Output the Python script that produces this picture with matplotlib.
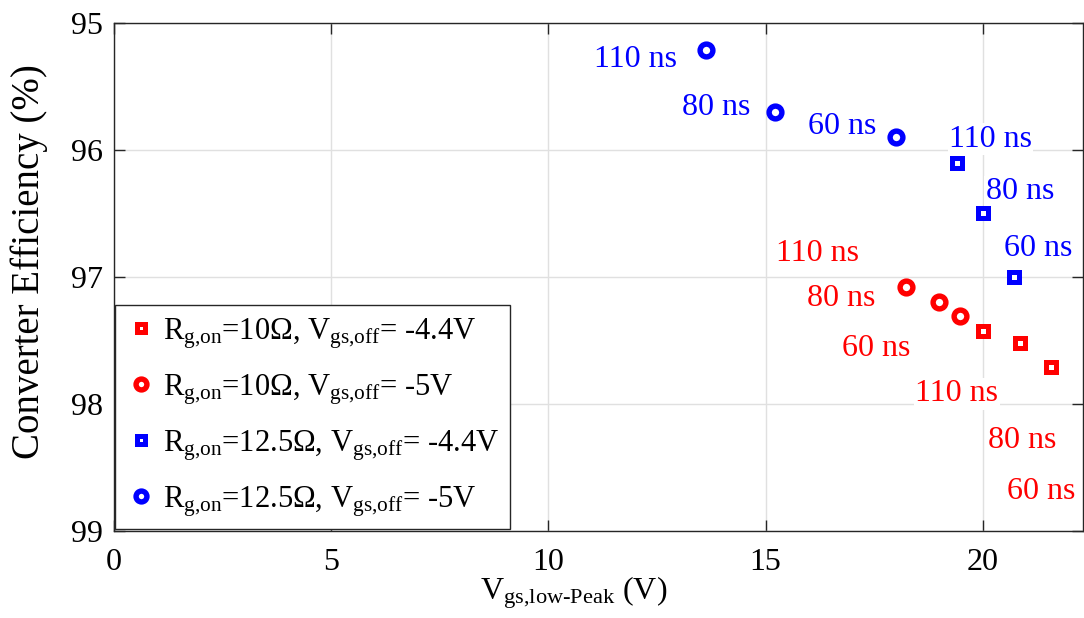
import matplotlib
matplotlib.use('Agg')
import matplotlib.pyplot as plt

plt.rcParams['font.family'] = 'Liberation Serif'
plt.rcParams['mathtext.fontset'] = 'custom'
plt.rcParams['mathtext.rm'] = 'Liberation Serif'
plt.rcParams['mathtext.it'] = 'Liberation Serif:italic'

# Peak low-side gate voltage (V) and converter efficiency (%) per dead time
dead_times = ['110 ns', '80 ns', '60 ns']

vgs_r10_44 = [20.0, 20.85, 21.57]
eff_r10_44 = [97.43, 97.52, 97.71]

vgs_r10_5 = [18.23, 18.99, 19.48]
eff_r10_5 = [97.08, 97.20, 97.31]

vgs_r125_44 = [19.41, 20.0, 20.71]
eff_r125_44 = [96.10, 96.50, 97.00]

vgs_r125_5 = [13.62, 15.21, 18.01]
eff_r125_5 = [95.21, 95.70, 95.90]

series_labels = [
    r'R$_{\mathrm{g{,}on}}$=10Ω, V$_{\mathrm{gs{,}off}}$= -4.4V',
    r'R$_{\mathrm{g{,}on}}$=10Ω, V$_{\mathrm{gs{,}off}}$= -5V',
    r'R$_{\mathrm{g{,}on}}$=12.5Ω, V$_{\mathrm{gs{,}off}}$= -4.4V',
    r'R$_{\mathrm{g{,}on}}$=12.5Ω, V$_{\mathrm{gs{,}off}}$= -5V',
]

# where each dead-time label sits relative to its marker (pixels)
label_offsets = [
    [(-26, -70), (2, -105), (-10, -132)],
    [(-89, 26), (-98, -4), (-84, -40)],
    [(33, 16), (37, 14), (24, 21)],
    [(-70, -17), (-59, -3), (-54, 3)],
]

fig = plt.figure(figsize=(10.84, 6.18), dpi=100)
ax = fig.add_axes([0.105, 0.141, 0.894, 0.822])

series = [
    (vgs_r10_44, eff_r10_44, 's', 'red', 7.4, 3.6),
    (vgs_r10_5, eff_r10_5, 'o', 'red', 9.2, 3.9),
    (vgs_r125_44, eff_r125_44, 's', 'blue', 7.6, 3.6),
    (vgs_r125_5, eff_r125_5, 'o', 'blue', 9.2, 3.9),
]

for (x, y, mk, col, ms, mew), lab, offs in zip(series, series_labels, label_offsets):
    ax.plot(x, y, linestyle='none', marker=mk, markersize=ms, markeredgewidth=mew,
            markerfacecolor='white', markeredgecolor=col, label=lab, zorder=4)
    for xi, yi, dt, off in zip(x, y, dead_times, offs):
        ax.annotate(dt, (xi, yi), xytext=off, textcoords='offset pixels',
                    ha='center', va='baseline', color=col, fontsize=23,
                    bbox=dict(facecolor='white', edgecolor='none', pad=1),
                    zorder=3)

ax.set_xlim(0, 22.3)
ax.set_ylim(99, 95)
ax.set_xticks([0, 5, 10, 15, 20])
ax.set_yticks([95, 96, 97, 98, 99])
ax.grid(True, color='0.88', linewidth=1)
ax.set_axisbelow(True)
ax.tick_params(direction='in', length=8, width=1, top=True, right=True,
               labelsize=23, color='0.15')
ax.tick_params(axis='x', pad=12)
ax.tick_params(axis='y', pad=8)
for s in ax.spines.values():
    s.set_color('0.15')
    s.set_linewidth(1)

ax.set_xlabel(r'V$_{\text{gs,low-Peak}}$ (V)', fontsize=23)
ax.xaxis.set_label_coords(0.474, -0.085, transform=ax.transAxes)
ax.xaxis.label.set_va('top')
ax.set_ylabel('Converter Efficiency (%)', fontsize=28)
ax.yaxis.set_label_coords(-0.068, 0.53)

leg = ax.legend(loc='lower left', borderaxespad=0.05, fontsize=22, fancybox=False,
                framealpha=1, edgecolor='0.15', handletextpad=0.2, labelspacing=0.7,
                handlelength=1.0, borderpad=0.35, markerscale=0.85)
leg.get_frame().set_linewidth(1)

fig.savefig('out.png', dpi=100)
